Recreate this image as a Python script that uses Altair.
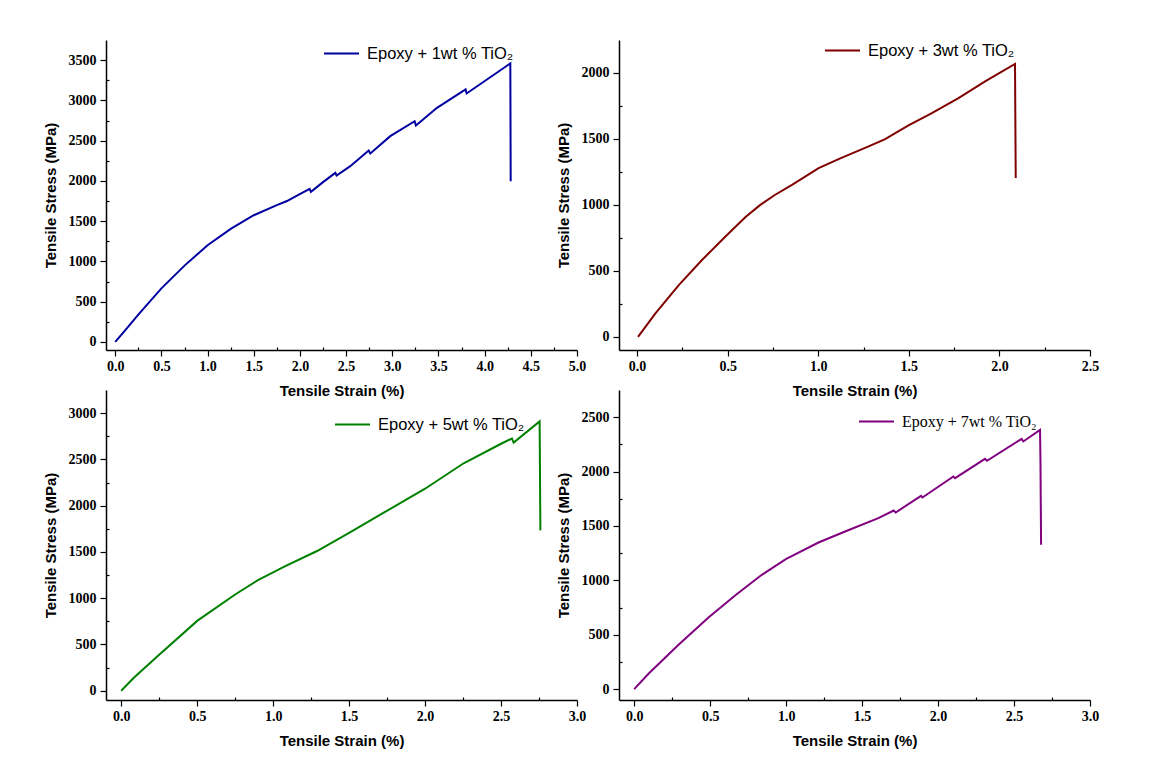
import altair as alt
import pandas as pd

# ---- data ----
strain_1 = [0.0, 0.10, 0.25, 0.50, 0.75, 1.00, 1.25, 1.50, 1.75, 1.86, 1.968,
            2.105, 2.119, 2.25, 2.383, 2.397, 2.545, 2.744, 2.762, 2.978, 3.242, 3.256,
            3.484, 3.794, 3.805, 4.025, 4.278, 4.282]
stress_1 = [0, 135, 340, 665, 948, 1201, 1404, 1574, 1700, 1750, 1818,
            1901, 1864, 1985, 2100, 2067, 2183, 2378, 2340, 2556, 2742, 2688,
            2908, 3136, 3086, 3260, 3459, 1996]

strain_2 = [0.005, 0.101, 0.230, 0.358, 0.496, 0.600, 0.680, 0.760, 0.855, 1.002, 1.112,
            1.278, 1.369, 1.498, 1.627, 1.774, 1.921, 2.086, 2.090]
stress_2 = [0, 177, 392, 582, 772, 910, 1000, 1075, 1152, 1279, 1347,
            1443, 1499, 1603, 1696, 1810, 1937, 2069, 1203]

strain_3 = [0.0, 0.083, 0.25, 0.50, 0.75, 0.90, 1.00, 1.07, 1.289, 1.50, 1.728,
            2.00, 2.254, 2.50, 2.572, 2.583, 2.754, 2.759]
stress_3 = [0, 140, 390, 755, 1040, 1195, 1280, 1338, 1510, 1705, 1924,
            2183, 2458, 2669, 2726, 2682, 2910, 1733]

strain_4 = [0.0, 0.094, 0.292, 0.489, 0.664, 0.840, 0.998, 1.213, 1.388, 1.607, 1.708,
            1.721, 1.888, 1.897, 2.101, 2.112, 2.309, 2.322, 2.550, 2.561, 2.671, 2.674, 2.678]
stress_4 = [0, 141, 408, 659, 861, 1051, 1195, 1348, 1449, 1572, 1642,
            1624, 1777, 1762, 1955, 1940, 2117, 2099, 2301, 2277, 2384, 2100, 1327]

labels = ["Epoxy + 1wt % TiO₂", "Epoxy + 3wt % TiO₂", "Epoxy + 5wt % TiO₂", "Epoxy + 7wt % TiO₂"]
colors = ["#0000A0", "#800000", "#008000", "#800080"]
x_max = [5.0, 2.5, 3.0, 3.0]
y_max = [3750, 2250, 3250, 2750]
y_major_top = [3500, 2000, 3000, 2500]

W, H = 471, 310


def frange(start, stop, step):
    n = int(round((stop - start) / step))
    return [round(start + i * step, 4) for i in range(n + 1)]


def panel(strain, stress, label, color, xmax, ymax, ytop, lx, ly, lfont, lsize):
    df = pd.DataFrame({"strain": strain, "stress": stress, "series": label,
                       "order": list(range(len(strain)))})
    xscale = alt.Scale(domain=[-0.1, xmax], nice=False, zero=False)
    yscale = alt.Scale(domain=[-100, ymax], nice=False, zero=False)
    x_major = frange(0, xmax, 0.5)
    x_minor = frange(0.25, xmax - 0.25, 0.5)
    y_major = frange(0, ytop, 500)
    y_minor = [v for v in frange(250, ymax, 500) if v < ymax]

    main = alt.Chart(df).mark_line(strokeWidth=2).encode(
        x=alt.X("strain:Q", scale=xscale,
                axis=alt.Axis(values=x_major, format=".1f", title="Tensile Strain (%)",
                              orient="bottom", tickSize=6, labelPadding=3,
                              titlePadding=10, labelFlush=False)),
        y=alt.Y("stress:Q", scale=yscale,
                axis=alt.Axis(values=y_major, format="d", title="Tensile Stress (MPa)",
                              orient="left", tickSize=6, labelPadding=4,
                              titlePadding=10, labelFlush=False)),
        order="order:Q",
        color=alt.Color("series:N", scale=alt.Scale(domain=[label], range=[color]),
                        legend=alt.Legend(orient="none", legendX=lx, legendY=ly, title=None,
                                          symbolType="stroke", symbolSize=1225,
                                          symbolStrokeWidth=2, labelFont=lfont,
                                          labelFontSize=lsize, labelColor="black",
                                          labelOffset=7, padding=0)),
    )
    minor = alt.Chart(df).mark_line(opacity=0).encode(
        x=alt.X("strain:Q", scale=xscale,
                axis=alt.Axis(values=x_minor, labels=False, domain=False, tickSize=3,
                              offset=-3, title="", orient="bottom")),
        y=alt.Y("stress:Q", scale=yscale,
                axis=alt.Axis(values=y_minor, labels=False, domain=False, tickSize=3,
                              offset=-3, title="", orient="left")),
        order="order:Q",
    )
    return alt.layer(main, minor).resolve_axis(x="independent", y="independent").properties(
        width=W, height=H)


p1 = panel(strain_1, stress_1, labels[0], colors[0], x_max[0], y_max[0], y_major_top[0],
           217, -5, "Liberation Sans", 16.5)
p2 = panel(strain_2, stress_2, labels[1], colors[1], x_max[1], y_max[1], y_major_top[1],
           205, -8, "Liberation Sans", 16.5)
p3 = panel(strain_3, stress_3, labels[2], colors[2], x_max[2], y_max[2], y_major_top[2],
           228, 16, "Liberation Sans", 16.5)
p4 = panel(strain_4, stress_4, labels[3], colors[3], x_max[3], y_max[3], y_major_top[3],
           239, 13, "Liberation Serif", 16)

chart = alt.concat(p1, p2, p3, p4, columns=2, spacing={"row": 40, "column": 42},
                   bounds="flush").resolve_scale(
    color="independent", x="independent", y="independent"
).resolve_legend(color="independent").properties(
    padding={"left": 35, "top": 24, "right": 5, "bottom": 5},
    background="white",
).configure_axis(
    grid=False,
    domainColor="black", domainWidth=1.5,
    tickColor="black", tickWidth=1.2,
    labelFont="Liberation Serif", labelFontWeight="bold", labelFontSize=14,
    labelColor="black",
    titleFont="Liberation Sans", titleFontWeight="bold", titleFontSize=15,
    titleColor="black",
).configure_view(strokeOpacity=0)

chart.save("out.html", embed_options={"renderer": "svg", "actions": False})
